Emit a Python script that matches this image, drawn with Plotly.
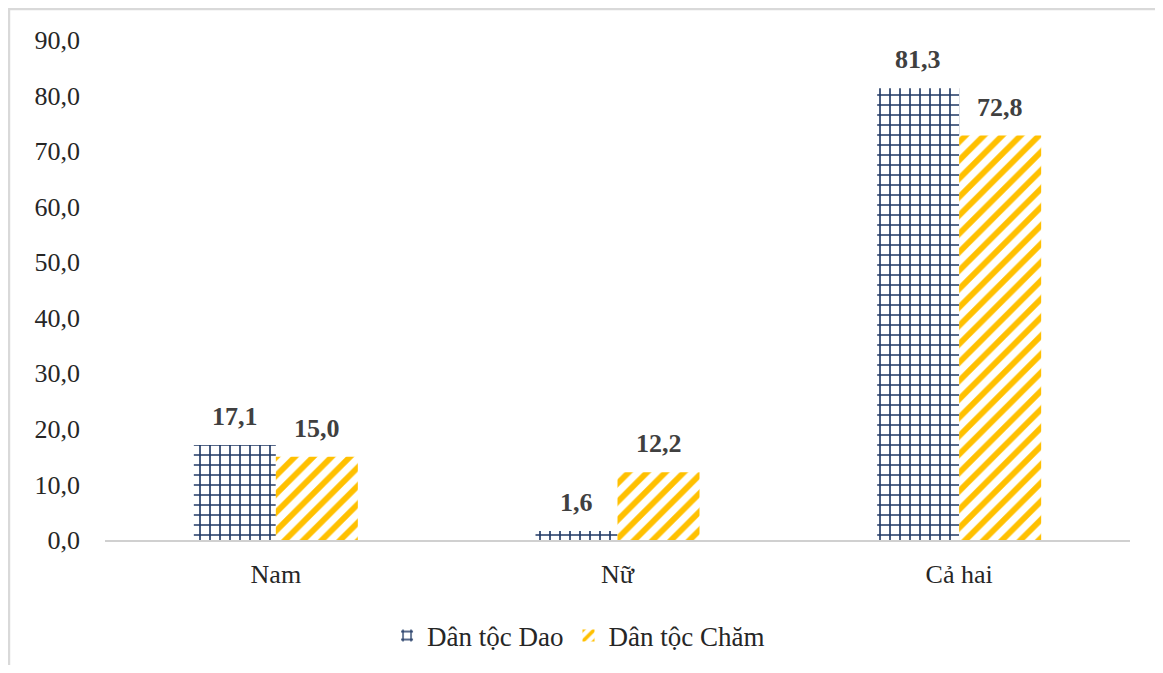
import plotly.graph_objects as go

categories = ["Nam", "Nữ", "Cả hai"]
dao_values = [17.1, 1.6, 81.3]
cham_values = [15.0, 12.2, 72.8]
series_names = ["Dân tộc Dao", "Dân tộc Chăm"]
y_ticks = [0, 10, 20, 30, 40, 50, 60, 70, 80, 90]

NAVY = "#1f3864"
GOLD = "#ffc000"
FONT = "Liberation Serif, Times New Roman, serif"

fig = go.Figure()
fig.add_trace(go.Bar(
    x=categories, y=dao_values, name=series_names[0],
    marker=dict(color="white", line=dict(width=0),
                pattern=dict(shape="+", fgcolor=NAVY, bgcolor="white",
                             size=10, solidity=0.3, fillmode="replace")),
))
fig.add_trace(go.Bar(
    x=categories, y=cham_values, name=series_names[1],
    marker=dict(color="white", line=dict(width=0),
                pattern=dict(shape="/", fgcolor=GOLD, bgcolor="white",
                             size=13, solidity=0.45, fillmode="replace")),
))

for vals, shift in ((dao_values, -41), (cham_values, 41)):
    for c, v in zip(categories, vals):
        fig.add_annotation(
            x=c, y=v, xshift=shift, yshift=12, yanchor="bottom",
            text=f"{v:.1f}".replace(".", ","), showarrow=False,
            font=dict(family=FONT, size=26, color="#404040", weight="bold"),
        )

# cropped frame: left and top edges only
fig.add_shape(type="line", xref="paper", yref="paper",
              x0=-0.0937, x1=-0.0937, y0=-0.25, y1=1.063,
              line=dict(color="#d9d9d9", width=2.5), layer="below")
fig.add_shape(type="line", xref="paper", yref="paper",
              x0=-0.0946, x1=1.0244, y0=1.062, y1=1.062,
              line=dict(color="#d9d9d9", width=2.5), layer="below")

fig.update_layout(
    width=1147, height=657,
    margin=dict(l=97, r=25, t=32, b=125, autoexpand=False),
    paper_bgcolor="white", plot_bgcolor="white",
    separators=",.",
    barmode="group", bargap=0.52, bargroupgap=0,
    font=dict(family=FONT, size=26, color="#262626"),
    showlegend=True,
    legend=dict(orientation="h", x=0.462, xanchor="center", y=-0.192, yanchor="middle",
                font=dict(family=FONT, size=27, color="#262626"),
                itemwidth=30, tracegroupgap=0),
    xaxis=dict(showline=True, linecolor="#d0d0d0", linewidth=2,
               ticks="", ticklabelstandoff=10, automargin=False,
               tickfont=dict(family=FONT, size=26, color="#262626")),
    yaxis=dict(range=[0, 90], tickvals=y_ticks, tickformat=".1f",
               showgrid=False, showline=False, zeroline=False, automargin=False,
               ticks="", ticklabelstandoff=24,
               tickfont=dict(family=FONT, size=26, color="#262626")),
)

fig.write_html("out.html")
